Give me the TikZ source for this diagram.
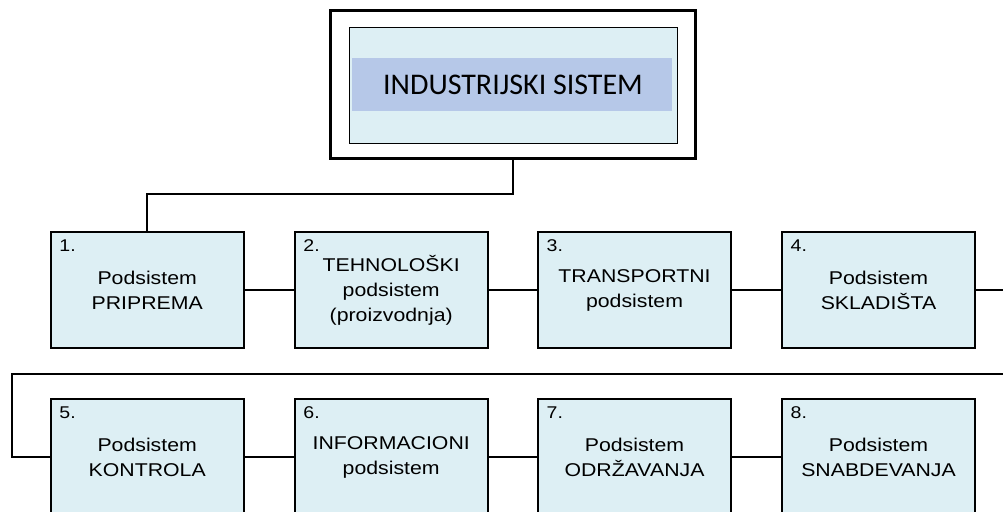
\documentclass[tikz,border=0pt]{standalone}
\usepackage{fontspec}
\newfontfamily\arialf[FakeStretch=1.15]{Liberation Sans}
\newfontfamily\calf{Carlito}
\definecolor{boxfill}{HTML}{DDEFF4}
\definecolor{bandfill}{HTML}{B6C8E8}
\tikzset{
  sub/.style={draw=black, line width=2pt, fill=boxfill, minimum width=193pt, minimum height=116pt,
    inner sep=0pt, align=center, font={\arialf\fontsize{18.5}{25}\selectfont}},
  numlbl/.style={anchor=base west, inner sep=0pt, font={\arialf\fontsize{17}{18}\selectfont}},
  conn/.style={draw=black, line width=2pt}
}
\begin{document}
\begin{tikzpicture}[x=1pt, y=-1pt]
\useasboundingbox (0,0) rectangle (1003,511);
\clip (0,0) rectangle (1003,511);
% top box
\node[draw=black, line width=2.6pt, minimum width=365pt, minimum height=148pt, inner sep=0pt] (top) at (513,84.5) {};
\node[draw=black, line width=0.9pt, fill=boxfill, minimum width=328pt, minimum height=116pt, inner sep=0pt] (inner) at (513,85) {};
\node[fill=bandfill, minimum width=320pt, minimum height=53pt, inner sep=0pt] (band) at (512,84.5) {};
\node[inner sep=0pt, font={\calf\fontsize{30}{36}\selectfont}] (title) at (513,84.5) {INDUSTRIJSKI SISTEM};
% row 1
\node[sub] (b1) at (147.2,290) {Podsistem\\PRIPREMA};
\node[sub] (b2) at (391.2,290) {TEHNOLOŠKI\\podsistem\\(proizvodnja)};
\node[sub] (b3) at (634.5,290) {TRANSPORTNI\\podsistem};
\node[sub] (b4) at (878.5,290) {Podsistem\\SKLADIŠTA};
% row 2
\node[sub] (b5) at (147.2,457.3) {Podsistem\\KONTROLA};
\node[sub] (b6) at (391.2,457.3) {INFORMACIONI\\podsistem};
\node[sub] (b7) at (634.5,457.3) {Podsistem\\ODRŽAVANJA};
\node[sub] (b8) at (878.5,457.3) {Podsistem\\SNABDEVANJA};
% numbers
\foreach \b/\n in {b1/1,b2/2,b3/3,b4/4,b5/5,b6/6,b7/7,b8/8}
  \node[numlbl] (n\b) at ([shift={(9.5pt,-20pt)}]\b.north west) {\n.};
% connectors
\coordinate (r1end) at (1010,290);
\coordinate (r2start) at (1010,374);
\coordinate (r2corner) at (12,374);
\draw[conn] (top.south) -- ++(0,34) -| (b1.north);
\draw[conn] (b1) -- (b2);
\draw[conn] (b2) -- (b3);
\draw[conn] (b3) -- (b4);
\draw[conn] (b4) -- (r1end);
\draw[conn] (r2start) -- (r2corner) |- (b5.west);
\draw[conn] (b5) -- (b6);
\draw[conn] (b6) -- (b7);
\draw[conn] (b7) -- (b8);
\end{tikzpicture}
\end{document}
